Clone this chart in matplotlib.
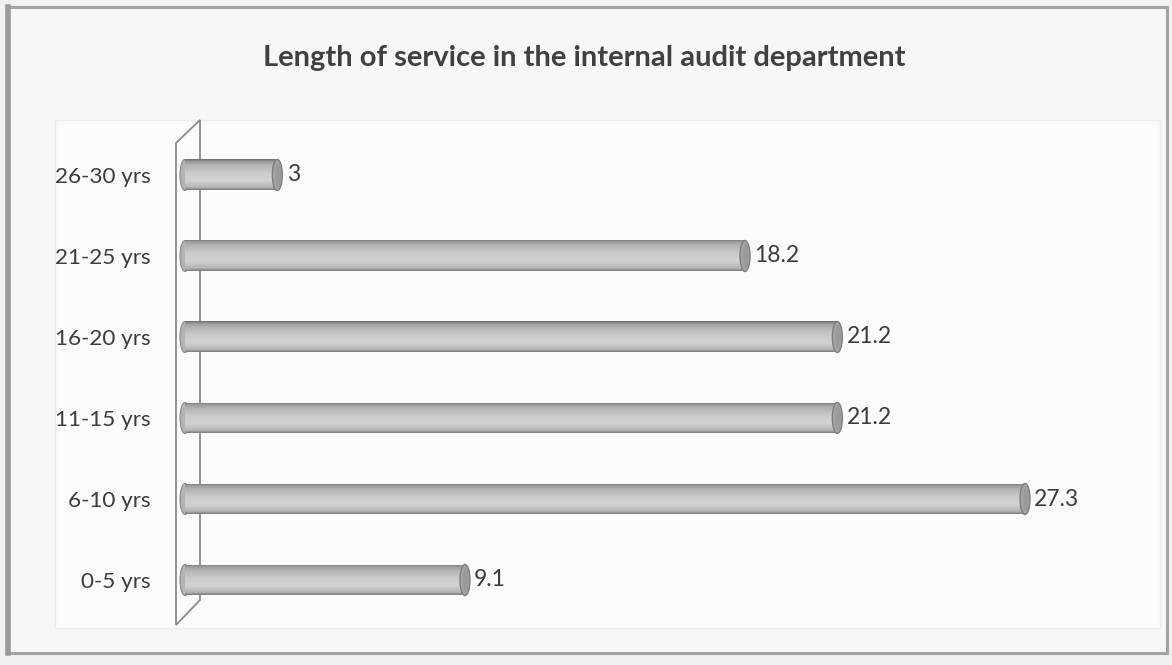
import matplotlib
matplotlib.use('Agg')
import matplotlib.pyplot as plt
import numpy as np
from matplotlib.patches import Ellipse, Rectangle, Polygon
from matplotlib.colors import LinearSegmentedColormap

# service bands and share of auditors (%)
categories = ['0-5 yrs', '6-10 yrs', '11-15 yrs', '16-20 yrs', '21-25 yrs', '26-30 yrs']
values = [9.1, 27.3, 21.2, 21.2, 18.2, 3]
title = 'Length of service in the internal audit department'

plt.rcParams['font.family'] = ['Lato', 'DejaVu Sans']
text_col = '#3c3c3c'

W, H = 1172, 665
fig = plt.figure(figsize=(W / 100, H / 100), dpi=100)
fig.patch.set_facecolor('#f1f1f1')

# page frame and the lighter plot area
fig.patches.append(Rectangle((7 / W, 12 / H), 1160 / W, 646 / H, transform=fig.transFigure,
                             facecolor='#f7f7f7', edgecolor='#a3a3a3', lw=2.2, zorder=-3))
fig.patches.append(Rectangle((55 / W, 37 / H), 1105 / W, 508 / H, transform=fig.transFigure,
                             facecolor='#fbfbfb', edgecolor='#ececec', lw=1, zorder=-2))
fig.lines.append(plt.Line2D([8 / W, 8 / W], [12 / H, 658 / H], transform=fig.transFigure,
                            color='#9a9a9a', lw=4, zorder=-1))

px_per_unit = 30.77
row_px = 81
ax = fig.add_axes([185 / W, 25 / H, 980 / W, 525 / H])
ax.set_facecolor('none')
for s in ax.spines.values():
    s.set_visible(False)
ax.set_xticks([])
ax.set_yticks(range(len(categories)), categories)
ax.tick_params(axis='y', length=0, pad=25, labelsize=16.2, labelcolor=text_col)

# side wall of the 3D frame
wx0, wx1 = -9 / px_per_unit, 15 / px_per_unit
wall = Polygon([(wx0, 437 / row_px), (wx1, 460 / row_px), (wx1, -20 / row_px), (wx0, -45 / row_px)],
               closed=True, facecolor='none', edgecolor='#8c8c8c', lw=1.3, zorder=1,
               clip_on=False)
ax.add_patch(wall)

# cylinder shading across the bar height
cyl = LinearSegmentedColormap.from_list('cyl', [
    (0.0, '#7c7c7c'), (0.08, '#b4b4b4'), (0.3, '#d2d2d2'), (0.55, '#cbcbcb'),
    (0.82, '#b2b2b2'), (0.93, '#9a9a9a'), (1.0, '#6e6e6e')])
grad = np.linspace(1, 0, 64).reshape(-1, 1)

bh = 31 / row_px
cap_w = 10 / px_per_unit
bars = ax.barh(range(len(values)), values, height=bh, color='none', edgecolor='none', zorder=3)
for i, (bar, v) in enumerate(zip(bars, values)):
    ax.add_patch(Ellipse((0, i), cap_w, bh, facecolor='#b3b3b3', edgecolor='#8a8a8a',
                         lw=0.8, zorder=2.9, clip_on=False))
    im = ax.imshow(grad, extent=[0, v, i - bh / 2, i + bh / 2], aspect='auto', cmap=cyl,
                   vmin=0, vmax=1, zorder=3, interpolation='bilinear')
    im.set_clip_path(bar)
    ax.add_patch(Ellipse((v, i), cap_w, bh, facecolor='#a4a4a4', edgecolor='#7e7e7e',
                         lw=1.0, zorder=4))
    ax.add_patch(Ellipse((v + cap_w * 0.08, i), cap_w * 0.55, bh * 0.8, facecolor='#9a9a9a',
                         edgecolor='none', zorder=4.1))
    ax.text(v + 0.3, i, f'{v:g}', va='center', ha='left', fontsize=16.5,
            color=text_col, zorder=5)

ax.set_xlim(0, 980 / px_per_unit)
ax.set_ylim(-60 / row_px, 465 / row_px)

fig.text(584 / W, 1 - 58 / H, title, ha='center', va='center', fontsize=21,
         fontweight='bold', color='#404040')

fig.savefig('out.png', dpi=100, facecolor=fig.get_facecolor())
